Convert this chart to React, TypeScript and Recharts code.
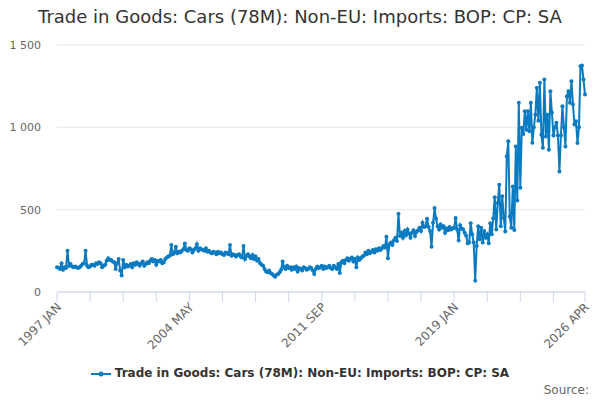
import React from 'react';
import { LineChart, Line, XAxis, YAxis, CartesianGrid } from 'recharts';

// monthly values, 1997 JAN .. 2026 APR
const values1997to2004 = [
  150, 148, 140, 175, 135, 150, 145, 250, 160, 170, 155, 150,
  155, 150, 145, 150, 160, 170, 175, 250, 160, 150, 155, 165,
  165, 160, 175, 170, 180, 175, 150, 160, 165, 190, 205, 195,
  195, 185, 180, 140, 175, 200, 130, 100, 195, 150, 165, 155,
  160, 170, 150, 175, 165, 180, 170, 160, 175, 185, 160, 170,
  180, 175, 190, 200, 185, 195, 165, 190, 185, 195, 175, 180,
  200, 210, 215, 220, 285, 230, 240, 275, 235, 245, 240, 250,
  260, 295, 255, 250, 265, 260, 240, 255, 265, 290, 250, 265,
];
const values2005to2012 = [
  260, 255, 250, 265, 245, 250, 240, 235, 245, 240, 230, 245,
  235, 240, 230, 225, 240, 235, 230, 285, 220, 230, 225, 215,
  225, 230, 215, 210, 280, 200, 220, 230, 215, 205, 225, 200,
  215, 190, 200, 175, 165, 160, 140, 125, 120, 130, 115, 110,
  100, 93, 105, 110, 120, 135, 185, 150, 140, 160, 145, 150,
  135, 150, 140, 155, 125, 145, 140, 130, 150, 145, 135, 140,
  150, 145, 130, 110, 140, 155, 145, 150, 160, 140, 155, 145,
  150, 160, 145, 140, 160, 150, 140, 170, 115, 180, 190, 175,
];
const values2013to2020 = [
  195, 205, 190, 200, 210, 185, 200, 150, 210, 195, 205, 215,
  220, 240, 230, 250, 235, 245, 255, 240, 260, 250, 265, 255,
  265, 280, 270, 335, 205, 290, 300, 285, 315, 330, 310, 475,
  340, 360, 330, 370, 345, 380, 355, 330, 360, 375, 340, 365,
  375, 390, 370, 420, 395, 400, 445, 395, 370, 275, 420, 510,
  445, 400, 380, 410, 390, 400, 360, 385, 375, 395, 380, 385,
  390, 450, 380, 312, 405, 385, 380, 360, 342, 296, 300, 418,
  350, 300, 69, 280, 400, 320, 390, 300, 370, 330, 350, 296,
];
const values2021to2026 = [
  418, 350, 448, 576, 380, 540, 651, 400, 582, 450, 368, 824,
  915, 458, 390, 641, 377, 884, 556, 1150, 633, 998, 960, 1097,
  986, 1097, 976, 1150, 907, 1000, 1077, 1241, 1040, 1270, 955, 876,
  1290, 945, 1077, 864, 1219, 1090, 950, 1000, 1028, 950, 732, 950,
  1128, 1000, 884, 1189, 1219, 1150, 1280, 1138, 1017, 1037, 905, 1000,
  1371, 1375, 1290, 1199,
];

const seriesName = 'Trade in Goods: Cars (78M): Non-EU: Imports: BOP: CP: SA';
const months = ['JAN', 'FEB', 'MAR', 'APR', 'MAY', 'JUN', 'JUL', 'AUG', 'SEP', 'OCT', 'NOV', 'DEC'];
const yTicks = [0, 500, 1000, 1500];
const xTicks = [0, 22, 44, 66, 88, 110, 132, 154, 176, 198, 220, 242, 264, 286, 308, 330, 351];
const labelledTicks = [0, 88, 176, 264, 351];

const allValues = [...values1997to2004, ...values2005to2012, ...values2013to2020, ...values2021to2026];
const data = allValues.map((v, i) => ({ i, value: v }));

const BLUE = '#0a7bc1';
const FONT = '"DejaVu Sans", sans-serif';

function monthLabel(i: number) {
  return `${1997 + Math.floor(i / 12)} ${months[i % 12]}`;
}

function XTick(props: any) {
  const { x, y, payload } = props;
  if (!labelledTicks.includes(payload.value)) return null;
  return (
    <g transform={`translate(${x + 5},${y + 4})`}>
      <text transform="rotate(-45)" textAnchor="end" fontSize={12} fill="#666" fontFamily={FONT}>
        {monthLabel(payload.value)}
      </text>
    </g>
  );
}

export default function App() {
  return (
    <div style={{ position: 'absolute', left: 0, top: 0, width: 600, height: 400, background: '#fff', fontFamily: FONT }}>
      <div style={{ position: 'absolute', top: 6, width: 600, textAlign: 'center', fontSize: 18, color: '#333' }}>
        {seriesName}
      </div>
      <LineChart
        width={600}
        height={400}
        data={data}
        margin={{ top: 45, right: 15, bottom: 38, left: 0 }}
      >
        <CartesianGrid horizontal vertical={false} stroke="#e6e6e6" />
        <XAxis
          dataKey="i"
          type="number"
          domain={[0, 351]}
          ticks={xTicks}
          interval={0}
          height={70}
          stroke="#ccd6eb"
          tickSize={10}
          tick={<XTick />}
        />
        <YAxis
          domain={[0, 1500]}
          ticks={yTicks}
          width={57}
          axisLine={false}
          tickLine={false}
          tickSize={0}
          tickMargin={16}
          tick={{ fontSize: 11, fill: '#666', fontFamily: FONT }}
          tickFormatter={(v: number) => v.toLocaleString('en-US').replace(/,/g, ' ')}
        />
        <Line
          type="linear"
          dataKey="value"
          name={seriesName}
          stroke={BLUE}
          strokeWidth={2}
          dot={{ r: 2, fill: BLUE, stroke: BLUE, strokeWidth: 0 }}
          activeDot={false}
          isAnimationActive={false}
        />
      </LineChart>
      <div style={{ position: 'absolute', top: 366, width: 600, textAlign: 'center', fontSize: 12, fontWeight: 'bold', color: '#333' }}>
        <svg width={20} height={10} style={{ marginRight: 4, verticalAlign: 'middle' }}>
          <line x1={0} y1={5} x2={20} y2={5} stroke={BLUE} strokeWidth={2} />
          <circle cx={10} cy={5} r={2.5} fill={BLUE} />
        </svg>
        {seriesName}
      </div>
      <div style={{ position: 'absolute', top: 383, right: 11, fontSize: 12, color: '#666' }}>Source:</div>
    </div>
  );
}
